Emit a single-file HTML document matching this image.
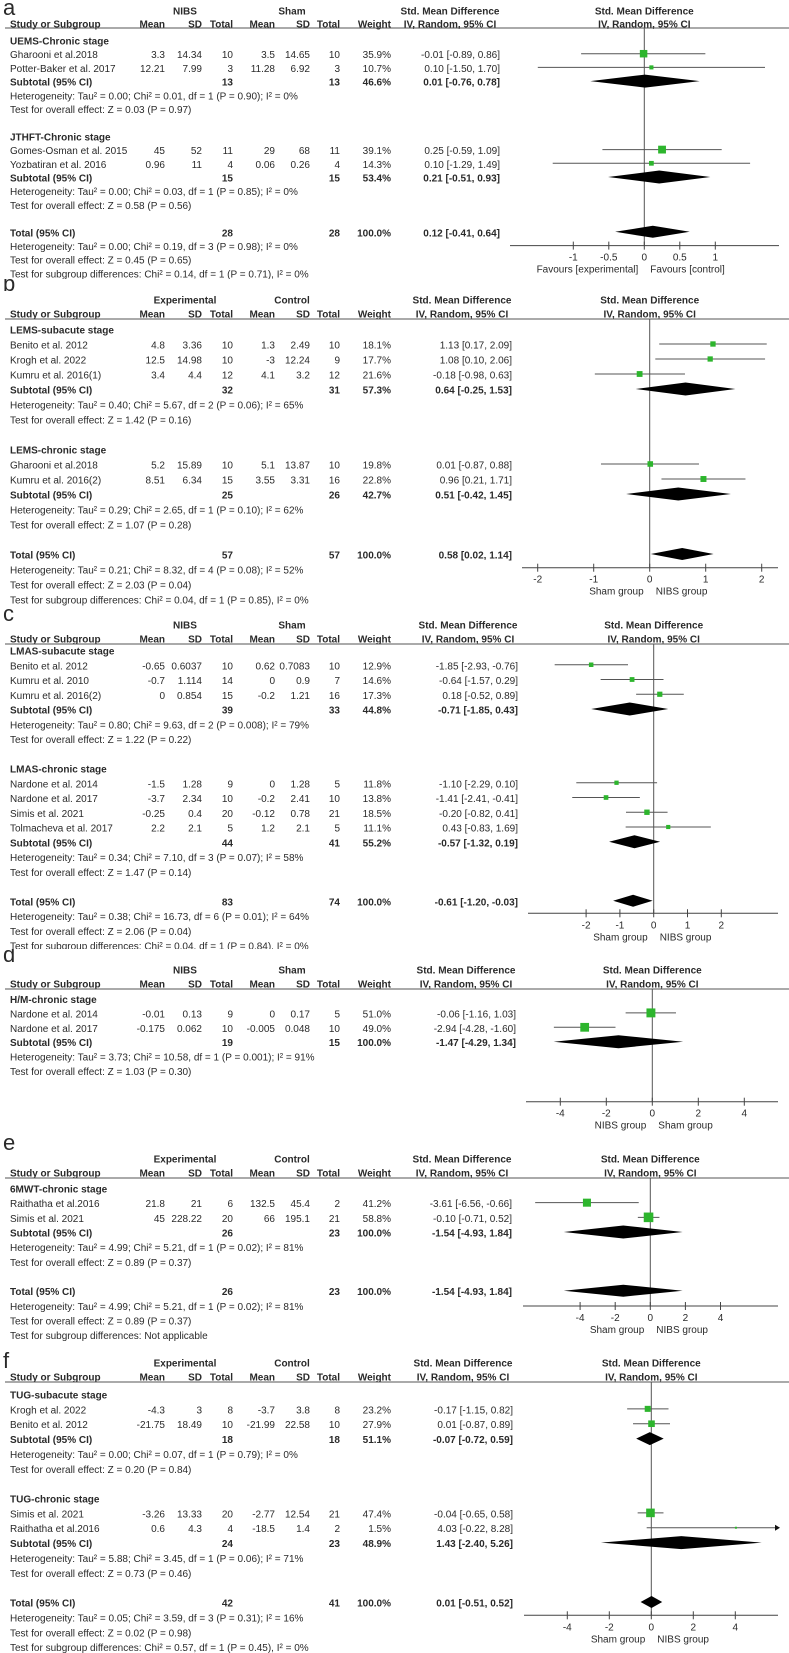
<!DOCTYPE html>
<html><head><meta charset="utf-8">
<style>
html,body{margin:0;padding:0;background:#fff;}
body{width:789px;height:1653px;position:relative;overflow:hidden;font-family:"Liberation Sans",Arial,sans-serif;}
svg.panel{position:absolute;left:0;width:789px;overflow:hidden;}
svg text{font-family:"Liberation Sans",Arial,sans-serif;font-size:10px;fill:#2a2a2a;}
</style></head>
<body>
<div id="root"></div>
<script>
// ---- Panel a data ----
const aEst=[-0.01,0.10,0.01,0.25,0.10,0.21,0.12];
const aLo=[-0.89,-1.50,-0.76,-0.59,-1.29,-0.51,-0.41];
const aHi=[0.86,1.70,0.78,1.09,1.49,0.93,0.64];
const aW=[35.9,10.7,46.6,39.1,14.3,53.4,100.0];
const aTicks=[-1,-0.5,0,0.5,1];
const aTickLabels=["-1","-0.5","0","0.5","1"];
// ---- Panel b data ----
const bEst=[1.13,1.08,-0.18,0.64,0.01,0.96,0.51,0.58];
const bLo=[0.17,0.10,-0.98,-0.25,-0.87,0.21,-0.42,0.02];
const bHi=[2.09,2.06,0.63,1.53,0.88,1.71,1.45,1.14];
const bW=[18.1,17.7,21.6,57.3,19.8,22.8,42.7,100.0];
const bTicks=[-2,-1,0,1,2];
const bTickLabels=["-2","-1","0","1","2"];
// ---- Panel c data ----
const cEst=[-1.85,-0.64,0.18,-0.71,-1.10,-1.41,-0.20,0.43,-0.57,-0.61];
const cLo=[-2.93,-1.57,-0.52,-1.85,-2.29,-2.41,-0.82,-0.83,-1.32,-1.20];
const cHi=[-0.76,0.29,0.89,0.43,0.10,-0.41,0.41,1.69,0.19,-0.03];
const cW=[12.9,14.6,17.3,44.8,11.8,13.8,18.5,11.1,55.2,100.0];
const cTicks=[-2,-1,0,1,2];
const cTickLabels=["-2","-1","0","1","2"];
// ---- Panel d data ----
const dEst=[-0.06,-2.94,-1.47];
const dLo=[-1.16,-4.28,-4.29];
const dHi=[1.03,-1.60,1.34];
const dW=[51.0,49.0,100.0];
const dTicks=[-4,-2,0,2,4];
const dTickLabels=["-4","-2","0","2","4"];
// ---- Panel e data ----
const eEst=[-3.61,-0.10,-1.54,-1.54];
const eLo=[-6.56,-0.71,-4.93,-4.93];
const eHi=[-0.66,0.52,1.84,1.84];
const eW=[41.2,58.8,100.0,100.0];
const eTicks=[-4,-2,0,2,4];
const eTickLabels=["-4","-2","0","2","4"];
// ---- Panel f data ----
const fEst=[-0.17,0.01,-0.07,-0.04,4.03,1.43,0.01];
const fLo=[-1.15,-0.87,-0.72,-0.65,-0.22,-2.40,-0.51];
const fHi=[0.82,0.89,0.59,0.58,8.28,5.26,0.52];
const fW=[23.2,27.9,51.1,47.4,1.5,48.9,100.0];
const fTicks=[-4,-2,0,2,4];
const fTickLabels=["-4","-2","0","2","4"];

const NS="http://www.w3.org/2000/svg";
const COLS=[165,202,233,275,310,340,391];
const root=document.getElementById('root');

function T(svg,x,y,str,anchor,bold,name,size){
  const el=document.createElementNS(NS,'text');
  el.setAttribute('x',x);el.setAttribute('y',y);
  if(anchor)el.setAttribute('text-anchor',anchor);
  if(bold)el.setAttribute('font-weight','bold');
  if(size)el.setAttribute('style','font-size:'+size+'px');
  el.textContent=str;
  
  
  svg.appendChild(el);return el;
}
function L(svg,x1,y1,x2,y2,col,name,wd){
  const el=document.createElementNS(NS,'line');
  el.setAttribute('x1',x1);el.setAttribute('y1',y1);el.setAttribute('x2',x2);el.setAttribute('y2',y2);
  el.setAttribute('stroke',col);el.setAttribute('stroke-width',wd||1);
  
  
  svg.appendChild(el);return el;
}
function f2(v){return v.toFixed(2);}

function panel(cfg,est,lo,hi,w,ticks,tickLabels){
  const svg=document.createElementNS(NS,'svg');
  svg.setAttribute('class','panel');
  svg.setAttribute('style','top:'+cfg.top+'px;height:'+(cfg.bottom-cfg.top)+'px');
  svg.setAttribute('viewBox','0 '+cfg.top+' 789 '+(cfg.bottom-cfg.top));
  
  
  root.appendChild(svg);
  const X=v=>cfg.zero+v*cfg.scale;
  T(svg,3,cfg.letterY,cfg.letter,'start',false,'panel-letter',22);
  T(svg,185,cfg.hdr1+3.5,cfg.g1,'middle',true,'group1-header');
  T(svg,292,cfg.hdr1+3.5,cfg.g2,'middle',true,'group2-header');
  T(svg,cfg.effR-50,cfg.hdr1+3.5,'Std. Mean Difference','middle',true,'effect-header');
  T(svg,cfg.effR-50,cfg.hdr2+3.5,'IV, Random, 95% CI','middle',true,'effect-subheader');
  T(svg,cfg.zero,cfg.hdr1+3.5,'Std. Mean Difference','middle',true,'plot-header');
  T(svg,cfg.zero,cfg.hdr2+3.5,'IV, Random, 95% CI','middle',true,'plot-subheader');
  T(svg,10,cfg.hdr2+3.5,'Study or Subgroup','start',true,'study-column-header');
  const hd=['Mean','SD','Total','Mean','SD','Total','Weight'];
  hd.forEach((h,i)=>T(svg,COLS[i],cfg.hdr2+3.5,h,'end',true,'column-header-'+h.toLowerCase()));
  L(svg,5,cfg.line,789,cfg.line,'#555','header-rule');
  L(svg,X(0),cfg.line,X(0),cfg.axisY,'#555','zero-line');
  let k=0;
  cfg.rows.forEach((r,i)=>{
    const y=cfg.start+i*cfg.step, by=y+3.5;
    if(r.t==='title'){T(svg,10,by,r.s,'start',true,'subgroup-title');}
    else if(r.t==='note'){T(svg,10,by,r.s,'start',false,'stat-note');}
    else if(r.t==='study'){
      T(svg,10,by,r.s,'start',false,'study-name');
      r.v.forEach((v,j)=>T(svg,COLS[j],by,v,'end',false,'study-value'));
      T(svg,COLS[6],by,w[k].toFixed(1)+'%','end',false,'study-weight');
      T(svg,cfg.effR,by,f2(est[k])+' ['+f2(lo[k])+', '+f2(hi[k])+']','end',false,'study-effect');
      const x1=Math.max(X(lo[k]),cfg.axisL), x2=Math.min(X(hi[k]),cfg.axisR-2);
      L(svg,x1,y-1,x2,y-1,'#555','ci-line');
      if(X(hi[k])>cfg.axisR-2){
        const p=document.createElementNS(NS,'polygon');
        p.setAttribute('points',(x2+4)+','+(y-1)+' '+(x2-1)+','+(y-4)+' '+(x2-1)+','+(y+2));
        p.setAttribute('fill','#111');
        
        
        svg.appendChild(p);
      }
      const s=Math.max(2,Math.sqrt(w[k])*1.25);
      const sq=document.createElementNS(NS,'rect');
      sq.setAttribute('x',X(est[k])-s/2);sq.setAttribute('y',y-1-s/2);
      sq.setAttribute('width',s);sq.setAttribute('height',s);sq.setAttribute('fill','#2db52d');
      
      
      svg.appendChild(sq);
      k++;
    } else if(r.t==='sub'||r.t==='total'){
      T(svg,10,by,r.t==='sub'?'Subtotal (95% CI)':'Total (95% CI)','start',true,r.t+'-label');
      T(svg,COLS[2],by,r.n1,'end',true,r.t+'-n1');
      T(svg,COLS[5],by,r.n2,'end',true,r.t+'-n2');
      T(svg,COLS[6],by,w[k].toFixed(1)+'%','end',true,r.t+'-weight');
      T(svg,cfg.effR,by,f2(est[k])+' ['+f2(lo[k])+', '+f2(hi[k])+']','end',true,r.t+'-effect');
      const h=r.t==='sub'?6.5:6;
      const p=document.createElementNS(NS,'polygon');
      p.setAttribute('points',X(lo[k])+','+(y-1)+' '+X(est[k])+','+(y-1-h)+' '+X(hi[k])+','+(y-1)+' '+X(est[k])+','+(y-1+h));
      p.setAttribute('fill','#000');
      
      
      svg.appendChild(p);
      k++;
    }
  });
  L(svg,cfg.axisL,cfg.axisY,cfg.axisR,cfg.axisY,'#444','x-axis');
  ticks.forEach((t,i)=>{
    L(svg,X(t),cfg.axisY-4,X(t),cfg.axisY+4,'#444','x-tick');
    T(svg,X(t),cfg.axisY+15,tickLabels[i],'middle',false,'x-tick-label');
  });
  T(svg,X(0)-6,cfg.axisY+27,cfg.lab[0],'end',false,'favours-left-label');
  T(svg,X(0)+6,cfg.axisY+27,cfg.lab[1],'start',false,'favours-right-label');
}

function S(name,vals){return {t:'study',s:name,v:vals};}
function N(s){return {t:'note',s:s};}
const B={t:'blank'};

panel({letter:'a',top:0,bottom:279,letterY:15,hdr1:11,hdr2:24,line:28,g1:'NIBS',g2:'Sham',effR:500,
  zero:644.3,scale:71,axisL:510,axisR:779,axisY:245.6,start:41,step:13.7,lab:['Favours [experimental]','Favours [control]'],
  rows:[{t:'title',s:'UEMS-Chronic stage'},
  S('Gharooni et al.2018',['3.3','14.34','10','3.5','14.65','10']),
  S('Potter-Baker et al. 2017',['12.21','7.99','3','11.28','6.92','3']),
  {t:'sub',n1:'13',n2:'13'},
  N('Heterogeneity: Tau² = 0.00; Chi² = 0.01, df = 1 (P = 0.90); I² = 0%'),
  N('Test for overall effect: Z = 0.03 (P = 0.97)'),B,
  {t:'title',s:'JTHFT-Chronic stage'},
  S('Gomes-Osman et al. 2015',['45','52','11','29','68','11']),
  S('Yozbatiran et al. 2016',['0.96','11','4','0.06','0.26','4']),
  {t:'sub',n1:'15',n2:'15'},
  N('Heterogeneity: Tau² = 0.00; Chi² = 0.03, df = 1 (P = 0.85); I² = 0%'),
  N('Test for overall effect: Z = 0.58 (P = 0.56)'),B,
  {t:'total',n1:'28',n2:'28'},
  N('Heterogeneity: Tau² = 0.00; Chi² = 0.19, df = 3 (P = 0.98); I² = 0%'),
  N('Test for overall effect: Z = 0.45 (P = 0.65)'),
  N('Test for subgroup differences: Chi² = 0.14, df = 1 (P = 0.71), I² = 0%')]},
  aEst,aLo,aHi,aW,aTicks,aTickLabels);

panel({letter:'b',top:279,bottom:606,letterY:291,hdr1:300,hdr2:314,line:319,g1:'Experimental',g2:'Control',effR:512,
  zero:649.7,scale:56,axisL:522,axisR:778,axisY:567.7,start:330,step:15,lab:['Sham group','NIBS group'],
  rows:[{t:'title',s:'LEMS-subacute stage'},
  S('Benito et al. 2012',['4.8','3.36','10','1.3','2.49','10']),
  S('Krogh et al. 2022',['12.5','14.98','10','-3','12.24','9']),
  S('Kumru et al. 2016(1)',['3.4','4.4','12','4.1','3.2','12']),
  {t:'sub',n1:'32',n2:'31'},
  N('Heterogeneity: Tau² = 0.40; Chi² = 5.67, df = 2 (P = 0.06); I² = 65%'),
  N('Test for overall effect: Z = 1.42 (P = 0.16)'),B,
  {t:'title',s:'LEMS-chronic stage'},
  S('Gharooni et al.2018',['5.2','15.89','10','5.1','13.87','10']),
  S('Kumru et al. 2016(2)',['8.51','6.34','15','3.55','3.31','16']),
  {t:'sub',n1:'25',n2:'26'},
  N('Heterogeneity: Tau² = 0.29; Chi² = 2.65, df = 1 (P = 0.10); I² = 62%'),
  N('Test for overall effect: Z = 1.07 (P = 0.28)'),B,
  {t:'total',n1:'57',n2:'57'},
  N('Heterogeneity: Tau² = 0.21; Chi² = 8.32, df = 4 (P = 0.08); I² = 52%'),
  N('Test for overall effect: Z = 2.03 (P = 0.04)'),
  N('Test for subgroup differences: Chi² = 0.04, df = 1 (P = 0.85), I² = 0%')]},
  bEst,bLo,bHi,bW,bTicks,bTickLabels);

panel({letter:'c',top:606,bottom:949,letterY:621,hdr1:625,hdr2:639,line:644,g1:'NIBS',g2:'Sham',effR:518,
  zero:653.7,scale:33.8,axisL:528,axisR:778,axisY:913.3,start:651,step:14.75,lab:['Sham group','NIBS group'],
  rows:[{t:'title',s:'LMAS-subacute stage'},
  S('Benito et al. 2012',['-0.65','0.6037','10','0.62','0.7083','10']),
  S('Kumru et al. 2010',['-0.7','1.114','14','0','0.9','7']),
  S('Kumru et al. 2016(2)',['0','0.854','15','-0.2','1.21','16']),
  {t:'sub',n1:'39',n2:'33'},
  N('Heterogeneity: Tau² = 0.80; Chi² = 9.63, df = 2 (P = 0.008); I² = 79%'),
  N('Test for overall effect: Z = 1.22 (P = 0.22)'),B,
  {t:'title',s:'LMAS-chronic stage'},
  S('Nardone et al. 2014',['-1.5','1.28','9','0','1.28','5']),
  S('Nardone et al. 2017',['-3.7','2.34','10','-0.2','2.41','10']),
  S('Simis et al. 2021',['-0.25','0.4','20','-0.12','0.78','21']),
  S('Tolmacheva et al. 2017',['2.2','2.1','5','1.2','2.1','5']),
  {t:'sub',n1:'44',n2:'41'},
  N('Heterogeneity: Tau² = 0.34; Chi² = 7.10, df = 3 (P = 0.07); I² = 58%'),
  N('Test for overall effect: Z = 1.47 (P = 0.14)'),B,
  {t:'total',n1:'83',n2:'74'},
  N('Heterogeneity: Tau² = 0.38; Chi² = 16.73, df = 6 (P = 0.01); I² = 64%'),
  N('Test for overall effect: Z = 2.06 (P = 0.04)'),
  N('Test for subgroup differences: Chi² = 0.04, df = 1 (P = 0.84), I² = 0%')]},
  cEst,cLo,cHi,cW,cTicks,cTickLabels);

panel({letter:'d',top:949,bottom:1137,letterY:962,hdr1:970,hdr2:984,line:989,g1:'NIBS',g2:'Sham',effR:516,
  zero:652.3,scale:23,axisL:526,axisR:778,axisY:1101.7,start:999.5,step:14.4,lab:['NIBS group','Sham group'],
  rows:[{t:'title',s:'H/M-chronic stage'},
  S('Nardone et al. 2014',['-0.01','0.13','9','0','0.17','5']),
  S('Nardone et al. 2017',['-0.175','0.062','10','-0.005','0.048','10']),
  {t:'sub',n1:'19',n2:'15'},
  N('Heterogeneity: Tau² = 3.73; Chi² = 10.58, df = 1 (P = 0.001); I² = 91%'),
  N('Test for overall effect: Z = 1.03 (P = 0.30)')]},
  dEst,dLo,dHi,dW,dTicks,dTickLabels);

panel({letter:'e',top:1137,bottom:1341,letterY:1150,hdr1:1159,hdr2:1173,line:1178,g1:'Experimental',g2:'Control',effR:512,
  zero:650.3,scale:17.55,axisL:523,axisR:778,axisY:1306,start:1189,step:14.67,lab:['Sham group','NIBS group'],
  rows:[{t:'title',s:'6MWT-chronic stage'},
  S('Raithatha et al.2016',['21.8','21','6','132.5','45.4','2']),
  S('Simis et al. 2021',['45','228.22','20','66','195.1','21']),
  {t:'sub',n1:'26',n2:'23'},
  N('Heterogeneity: Tau² = 4.99; Chi² = 5.21, df = 1 (P = 0.02); I² = 81%'),
  N('Test for overall effect: Z = 0.89 (P = 0.37)'),B,
  {t:'total',n1:'26',n2:'23'},
  N('Heterogeneity: Tau² = 4.99; Chi² = 5.21, df = 1 (P = 0.02); I² = 81%'),
  N('Test for overall effect: Z = 0.89 (P = 0.37)'),
  N('Test for subgroup differences: Not applicable')]},
  eEst,eLo,eHi,eW,eTicks,eTickLabels);

panel({letter:'f',top:1341,bottom:1653,letterY:1368,hdr1:1363,hdr2:1377,line:1382,g1:'Experimental',g2:'Control',effR:513,
  zero:651.3,scale:21,axisL:524,axisR:778,axisY:1615.3,start:1395,step:14.86,lab:['Sham group','NIBS group'],
  rows:[{t:'title',s:'TUG-subacute stage'},
  S('Krogh et al. 2022',['-4.3','3','8','-3.7','3.8','8']),
  S('Benito et al. 2012',['-21.75','18.49','10','-21.99','22.58','10']),
  {t:'sub',n1:'18',n2:'18'},
  N('Heterogeneity: Tau² = 0.00; Chi² = 0.07, df = 1 (P = 0.79); I² = 0%'),
  N('Test for overall effect: Z = 0.20 (P = 0.84)'),B,
  {t:'title',s:'TUG-chronic stage'},
  S('Simis et al. 2021',['-3.26','13.33','20','-2.77','12.54','21']),
  S('Raithatha et al.2016',['0.6','4.3','4','-18.5','1.4','2']),
  {t:'sub',n1:'24',n2:'23'},
  N('Heterogeneity: Tau² = 5.88; Chi² = 3.45, df = 1 (P = 0.06); I² = 71%'),
  N('Test for overall effect: Z = 0.73 (P = 0.46)'),B,
  {t:'total',n1:'42',n2:'41'},
  N('Heterogeneity: Tau² = 0.05; Chi² = 3.59, df = 3 (P = 0.31); I² = 16%'),
  N('Test for overall effect: Z = 0.02 (P = 0.98)'),
  N('Test for subgroup differences: Chi² = 0.57, df = 1 (P = 0.45), I² = 0%')]},
  fEst,fLo,fHi,fW,fTicks,fTickLabels);
</script>
</body></html>
